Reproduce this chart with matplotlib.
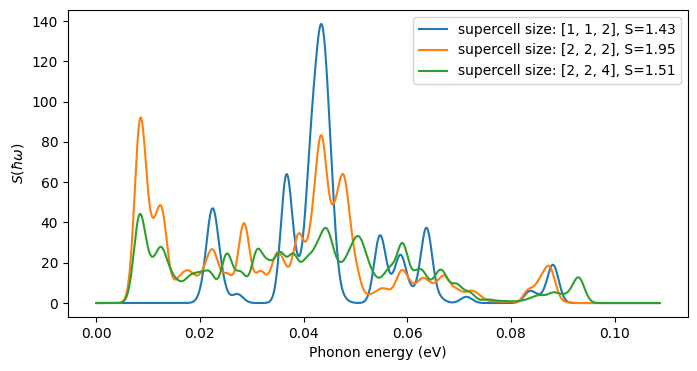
import numpy as np
import matplotlib.pyplot as plt

# S(hw) at its peaks, valleys and a few flanks (energy in eV)
e_112 = [0.0210, 0.0224, 0.0240, 0.0258, 0.0272, 0.0367, 0.0391, 0.0401,
         0.0412, 0.0423, 0.0435, 0.0445, 0.0452, 0.0462, 0.0472,
         0.0547, 0.0565, 0.0587, 0.0610, 0.0637, 0.0662, 0.0714, 0.0836,
         0.0855, 0.0881]
s_112 = [23.5, 47.0, 23.5, 4.3, 4.5, 64.0, 23.3, 39.0,
         80.6, 118.0, 138.4, 113.0, 80.0, 35.0, 10.0,
         33.6, 16.0, 24.0, 8.4, 37.4, 4.8, 3.1, 6.0,
         4.5, 19.0]

e_222 = [0.0085, 0.0107, 0.01265, 0.0158, 0.0176, 0.0191, 0.0209, 0.0226,
         0.0253, 0.0285, 0.0317, 0.0346, 0.0362, 0.0390, 0.0404, 0.0417,
         0.0435, 0.0459, 0.0478, 0.0499, 0.0529, 0.0550, 0.0566, 0.0589,
         0.0608, 0.0630, 0.0650, 0.0671, 0.0695, 0.0720, 0.0736, 0.0753,
         0.0770, 0.0785, 0.0800, 0.0817, 0.0832, 0.0856, 0.0875, 0.0906]
s_222 = [91.9, 43.5, 47.5, 12.7, 16.3, 13.9, 19.0, 26.4,
         14.8, 39.7, 16.0, 24.0, 21.0, 34.5, 30.5, 48.0,
         83.1, 49.8, 63.3, 24.6, 4.5, 7.3, 6.8, 16.3,
         10.5, 12.5, 10.0, 13.7, 7.3, 6.1, 4.8, 1.5,
         0.8, 0.6, 0.6, 1.5, 6.6, 12.7, 18.0, 0.6]

e_224 = [0.00835, 0.0104, 0.01246, 0.0143, 0.01605, 0.0181, 0.0200, 0.0220,
         0.0252, 0.0279, 0.0310, 0.0332, 0.0355, 0.0380, 0.0405, 0.0425,
         0.0443, 0.0457, 0.0473, 0.0489, 0.0505, 0.0519, 0.0534, 0.0552,
         0.0568, 0.0591, 0.0604, 0.0615, 0.0631, 0.0655, 0.0669, 0.0695,
         0.0720, 0.0753, 0.0770, 0.0785, 0.0800, 0.0817, 0.0837, 0.0856,
         0.0881, 0.0900, 0.0915, 0.0931]
s_224 = [44.0, 24.2, 27.9, 17.2, 11.0, 13.9, 15.5, 15.5,
         24.6, 15.7, 26.6, 21.6, 25.4, 24.6, 22.6, 29.5,
         37.3, 27.9, 20.4, 27.0, 33.3, 26.0, 15.5, 13.5,
         18.5, 29.8, 20.0, 16.3, 15.8, 14.2, 15.9, 9.7,
         5.6, 1.8, 1.3, 1.0, 0.8, 1.1, 2.5, 4.0,
         5.3, 4.5, 7.3, 12.7]

labels = ['supercell size: [1, 1, 2], S=1.43',
          'supercell size: [2, 2, 2], S=1.95',
          'supercell size: [2, 2, 4], S=1.51']

sigma = 0.0011  # gaussian smearing (eV)
energy = np.linspace(0, 0.1087, 2000)


def gauss(a, b):
    return np.exp(-(np.asarray(a)[:, None] - np.asarray(b)[None, :]) ** 2 / (2 * sigma ** 2))


def spectrum(e, s):
    # mode weights so the smeared curve goes through the read values
    w = np.linalg.solve(gauss(e, e), np.asarray(s))
    return gauss(energy, e) @ w


fig, ax = plt.subplots(figsize=(6.97, 3.71), dpi=100)
for e, s, lab in zip([e_112, e_222, e_224], [s_112, s_222, s_224], labels):
    ax.plot(energy, spectrum(e, s), label=lab)

ax.set_xlabel('Phonon energy (eV)')
ax.set_ylabel(r'$S(\hbar\omega)$')
ax.legend(loc='upper right')
fig.subplots_adjust(left=0.0976, right=0.987, bottom=0.1456, top=0.973)
fig.savefig('out.png', dpi=100)
